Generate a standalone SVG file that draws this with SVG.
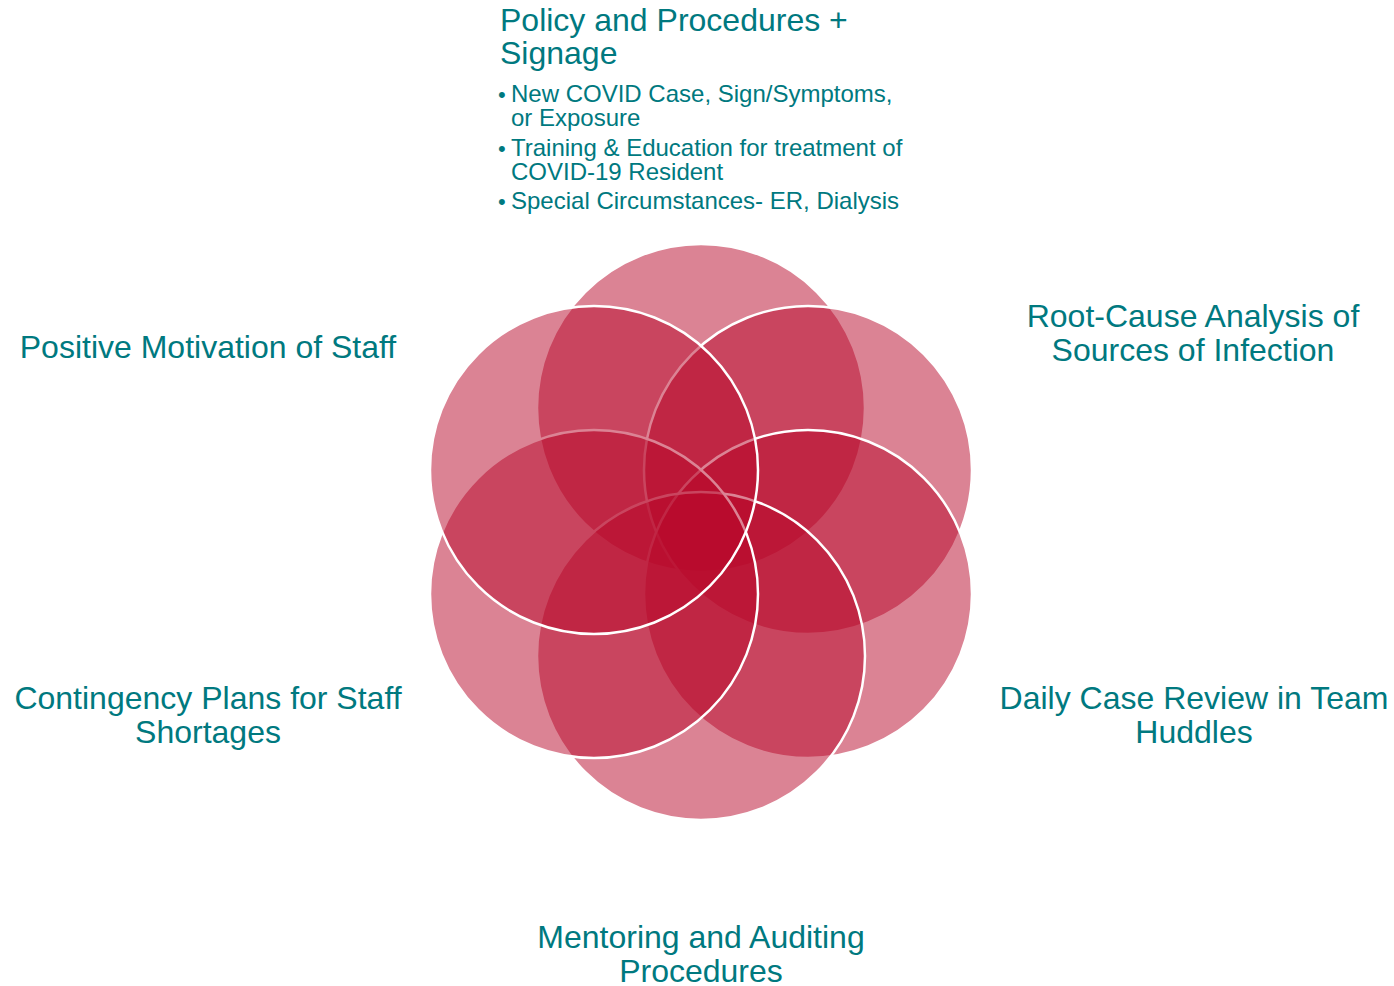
<svg xmlns="http://www.w3.org/2000/svg" width="1394" height="986" viewBox="0 0 1394 986">
  <style>
    .petal { fill: #B8082A; fill-opacity: 0.5; stroke: #FFFFFF; stroke-width: 2.5; }
    .label { font-family: "Liberation Sans", Arial, sans-serif; font-size: 32px; fill: #00797F; }
    .mid { text-anchor: middle; }
    .bullet { font-family: "Liberation Sans", Arial, sans-serif; font-size: 24px; fill: #00797F; }
    .dot { font-family: "Liberation Sans", Arial, sans-serif; font-size: 22px; fill: #00797F; }
  </style>
  <rect width="1394" height="986" fill="#FFFFFF"/>

  <!-- six overlapping circles, drawn clockwise from the top -->
  <g id="circles">
    <circle id="c-policy" class="petal" cx="701" cy="408" r="164"/>
    <circle id="c-rootcause" class="petal" cx="808" cy="470" r="164"/>
    <circle id="c-daily" class="petal" cx="808" cy="594" r="164"/>
    <circle id="c-mentoring" class="petal" cx="701" cy="656" r="164"/>
    <circle id="c-contingency" class="petal" cx="594" cy="594" r="164"/>
    <circle id="c-motivation" class="petal" cx="594" cy="470" r="164"/>
  </g>

  <g id="connectors"></g>

  <g id="node-policy">
    <text class="label" x="500" y="31">Policy and Procedures +</text>
    <text class="label" x="500" y="64">Signage</text>
    <text class="dot" x="498" y="102">•</text>
    <text class="bullet" x="511" y="102">New COVID Case, Sign/Symptoms,</text>
    <text class="bullet" x="511" y="126">or Exposure</text>
    <text class="dot" x="498" y="156">•</text>
    <text class="bullet" x="511" y="156">Training &amp; Education for treatment of</text>
    <text class="bullet" x="511" y="180">COVID-19 Resident</text>
    <text class="dot" x="498" y="209">•</text>
    <text class="bullet" x="511" y="209">Special Circumstances- ER, Dialysis</text>
  </g>

  <g id="node-rootcause">
    <text class="label mid" x="1193" y="327">Root-Cause Analysis of</text>
    <text class="label mid" x="1193" y="361">Sources of Infection</text>
  </g>

  <g id="node-daily">
    <text class="label mid" x="1194" y="709">Daily Case Review in Team</text>
    <text class="label mid" x="1194" y="743">Huddles</text>
  </g>

  <g id="node-mentoring">
    <text class="label mid" x="701" y="948">Mentoring and Auditing</text>
    <text class="label mid" x="701" y="982">Procedures</text>
  </g>

  <g id="node-contingency">
    <text class="label mid" x="208" y="709">Contingency Plans for Staff</text>
    <text class="label mid" x="208" y="743">Shortages</text>
  </g>

  <g id="node-motivation">
    <text class="label mid" x="208" y="358">Positive Motivation of Staff</text>
  </g>
</svg>
